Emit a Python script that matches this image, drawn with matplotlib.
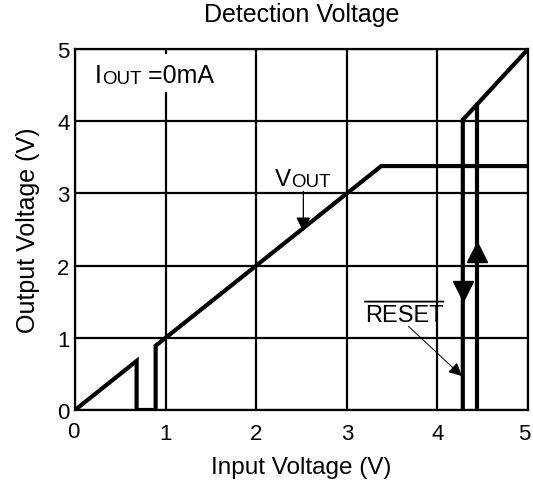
import numpy as np
import matplotlib
matplotlib.use("Agg")
import matplotlib.pyplot as plt
import matplotlib.transforms as mtransforms
from matplotlib.patches import Rectangle

plt.rcParams['font.family'] = ['Liberation Sans', 'DejaVu Sans']

# V_OUT trace (input V, output V)
vout_x = [0, 0.68, 0.68, 0.89, 0.89, 3.38, 5.0]
vout_y = [0, 0.68, 0.0, 0.0, 0.89, 3.38, 3.38]

# RESET trace: two vertical transitions meeting the upper diagonal
reset_fall_x = [4.28, 4.28, 5.0]
reset_fall_y = [0.0, 4.02, 5.0]
reset_rise_x = [4.44, 4.44]
reset_rise_y = [0.0, 4.22]

# direction arrows on the RESET transitions
down_arrow = (4.28, 1.65)
up_arrow = (4.44, 2.19)

ticks = [0, 1, 2, 3, 4, 5]

fig = plt.figure(figsize=(5.33, 4.89), dpi=100)
ax = fig.add_axes([0.1407, 0.1595, 0.850, 0.738])

ax.set_xlim(0, 5)
ax.set_ylim(0, 5)
ax.set_xticks(ticks)
ax.set_yticks(ticks)
ax.tick_params(length=0, labelsize=16)
ax.tick_params(axis='x', pad=9)
ax.tick_params(axis='y', pad=4)
ax.grid(True, color='black', linewidth=1.6)
ax.set_axisbelow(True)
for s in ax.spines.values():
    s.set_linewidth(1.6)

# nudge first and last x labels like in the original
xl = ax.get_xticklabels()
xl[0].set_transform(xl[0].get_transform() +
                    mtransforms.ScaledTranslation(-1 / 72, 1 / 72, fig.dpi_scale_trans))
xl[-1].set_transform(xl[-1].get_transform() +
                     mtransforms.ScaledTranslation(-3 / 72, 0, fig.dpi_scale_trans))

ax.plot(vout_x, vout_y, color='black', lw=3, solid_joinstyle='miter', zorder=3)
ax.plot(reset_fall_x, reset_fall_y, color='black', lw=3, solid_joinstyle='miter', zorder=3)
ax.plot(reset_rise_x, reset_rise_y, color='black', lw=3, zorder=3)
ax.plot(*down_arrow, marker='v', color='black', markersize=14, zorder=4)
ax.plot(*up_arrow, marker='^', color='black', markersize=14, zorder=4)

# labels
ax.set_title('Detection Voltage', fontsize=18, pad=20)
ax.set_xlabel('Input Voltage (V)', fontsize=17.5, labelpad=9)
ax.set_ylabel('Output Voltage (V)', fontsize=18, labelpad=12)

# I_OUT note; white box behind breaks the grid
ax.add_patch(Rectangle((0.033, 0.881), 0.29, 0.105, transform=ax.transAxes,
                       facecolor='white', edgecolor='none', zorder=1))
t1 = ax.text(0.22, 4.54, 'I', fontsize=18, va='baseline', zorder=5)
t2 = ax.annotate('OUT', xy=(1, 0), xycoords=t1, fontsize=13.5, va='bottom', zorder=5)
ax.annotate(' =0mA', xy=(1, 0), xycoords=t2, fontsize=18, va='bottom', zorder=5)

# V_OUT label with arrow
v1 = ax.text(2.21, 3.12, 'V', fontsize=17.5, va='baseline')
ax.annotate('OUT', xy=(1, 0), xycoords=v1, fontsize=13.5, va='bottom')
ax.annotate('', xy=(2.52, 2.47), xytext=(2.52, 3.03),
            arrowprops=dict(arrowstyle='-|>', color='black', lw=0.9,
                            mutation_scale=22, shrinkA=0, shrinkB=0))

# RESET label (overline drawn over the text box) with arrow
r = ax.text(3.2, 1.23, 'RESET', fontsize=17, va='baseline')
ax.annotate('', xy=(1.0, 1.12), xycoords=r, xytext=(0.0, 1.12), textcoords=r,
            arrowprops=dict(arrowstyle='-', color='black', lw=1.3,
                            shrinkA=0, shrinkB=0))
ax.annotate('', xy=(4.27, 0.47), xytext=(3.68, 1.16),
            arrowprops=dict(arrowstyle='-|>', color='black', lw=0.7,
                            mutation_scale=20, shrinkA=0, shrinkB=0))

fig.savefig('out.png', dpi=100)
